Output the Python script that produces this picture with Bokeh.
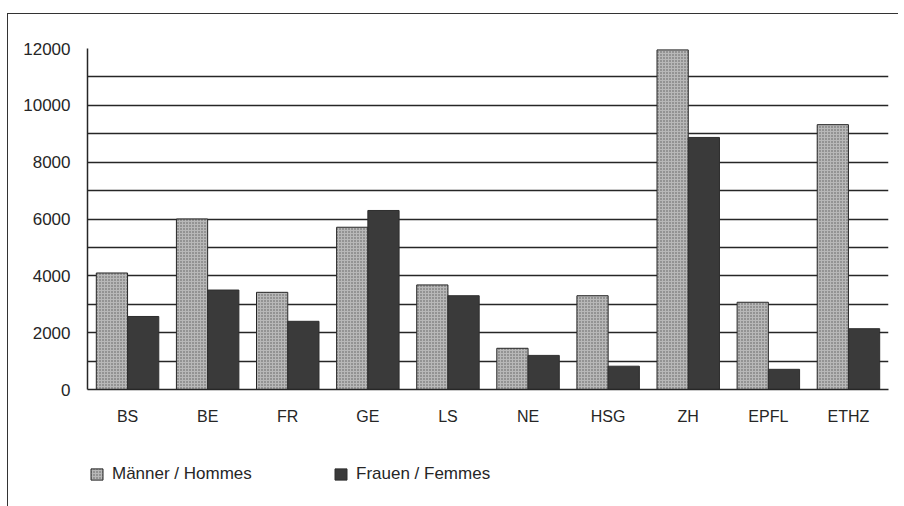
from bokeh.plotting import figure
from bokeh.layouts import column
from bokeh.models import (ColumnDataSource, FactorRange, Range1d, FixedTicker,
                          Legend, LegendItem)
from bokeh.transform import dodge
from bokeh.embed import file_html
from bokeh.resources import INLINE

# ---- data ----
categories = ["BS", "BE", "FR", "GE", "LS", "NE", "HSG", "ZH", "EPFL", "ETHZ"]
maenner = [4100, 6000, 3420, 5710, 3680, 1450, 3300, 11950, 3070, 9320]
frauen = [2570, 3500, 2400, 6300, 3300, 1200, 820, 8870, 710, 2140]
y_label_ticks = [0, 2000, 4000, 6000, 8000, 10000, 12000]
grid_ticks = [0, 1000, 2000, 3000, 4000, 5000, 6000, 7000, 8000, 9000,
              10000, 11000, 12000]
label_m = "Männer / Hommes"
label_f = "Frauen / Femmes"

FONT = "Liberation Sans"
INK = "#262626"
M_STYLE = dict(fill_color="#b8b8b8", line_color=INK, line_width=1,
               hatch_pattern="dot", hatch_color="#444444", hatch_scale=3,
               hatch_weight=1.4, hatch_alpha=0.8)
F_STYLE = dict(fill_color="#3a3a3a", line_color="#2e2e2e", line_width=1)

src = ColumnDataSource(dict(cat=categories, m=maenner, f=frauen))

p = figure(x_range=FactorRange(factors=categories, range_padding=0),
           y_range=Range1d(0, 12000),
           width=890, height=440,
           output_backend="svg", toolbar_location=None,
           min_border_left=79, min_border_top=34,
           min_border_right=10, min_border_bottom=65)
p.outline_line_color = None
p.background_fill_color = "white"
p.border_fill_color = "white"

# grid
p.xgrid.visible = False
p.ygrid.ticker = FixedTicker(ticks=grid_ticks)
p.ygrid.grid_line_color = INK
p.ygrid.grid_line_width = 1.5

# bars
p.vbar(x=dodge("cat", -0.195, range=p.x_range), top="m", width=0.39,
       source=src, **M_STYLE)
p.vbar(x=dodge("cat", 0.195, range=p.x_range), top="f", width=0.39,
       source=src, **F_STYLE)

# axes
p.yaxis.ticker = FixedTicker(ticks=y_label_ticks)
p.yaxis.major_tick_line_color = None
p.yaxis.minor_tick_line_color = None
p.yaxis.major_tick_out = 0
p.yaxis.major_label_standoff = 17
p.yaxis.axis_line_color = INK
p.yaxis.axis_line_width = 1.5
p.yaxis.major_label_text_font = FONT
p.yaxis.major_label_text_font_size = "17px"
p.yaxis.major_label_text_color = INK

p.xaxis.major_tick_line_color = None
p.xaxis.major_tick_out = 0
p.xaxis.major_label_standoff = 18
p.xaxis.axis_line_color = INK
p.xaxis.axis_line_width = 1.5
p.xaxis.major_label_text_font = FONT
p.xaxis.major_label_text_font_size = "16px"
p.xaxis.major_label_text_color = INK

# ---- legend strip (separate small figure below the chart) ----
lf = figure(width=890, height=52, x_range=Range1d(0, 1), y_range=Range1d(0, 1),
            x_axis_type=None, y_axis_type=None,
            output_backend="svg", toolbar_location=None,
            min_border=0, min_border_left=0, min_border_right=0,
            min_border_top=0, min_border_bottom=0)
lf.outline_line_color = None
lf.grid.visible = False
lf.background_fill_color = "white"
lf.border_fill_color = "white"
# legend proxies: one bar each, placed entirely outside the visible ranges
proxy = ColumnDataSource(dict(x=[-5.0], top=[-2.0], bottom=[-3.0]))
lm = lf.vbar(x="x", top="top", bottom="bottom", width=0.1, source=proxy,
             **M_STYLE)
lw = lf.vbar(x="x", top="top", bottom="bottom", width=0.1, source=proxy,
             **F_STYLE)

legend = Legend(items=[LegendItem(label=label_m, renderers=[lm], index=0),
                       LegendItem(label=label_f, renderers=[lw], index=0)],
                location=(2, 22), orientation="horizontal",
                padding=0, margin=0, spacing=0,
                glyph_width=15, glyph_height=14, label_standoff=8,
                label_width=221,
                label_text_font=FONT, label_text_font_size="17px",
                label_text_color=INK,
                border_line_color=None, background_fill_alpha=0)
lf.add_layout(legend, "center")

page = column(p, lf, spacing=0)
page.styles = {"border-top": "1px solid #333", "border-left": "1px solid #333",
               "margin-top": "13px", "margin-left": "7px"}

open("out.html", "w").write(file_html(page, INLINE))
